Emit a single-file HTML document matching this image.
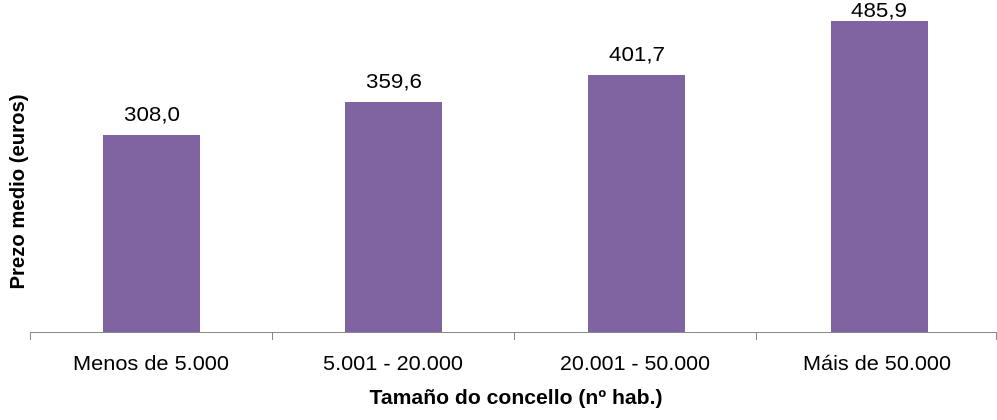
<!DOCTYPE html>
<html><head><meta charset="utf-8"><style>body{margin:0;background:#fff}</style></head><body>
<svg width="997" height="415" xmlns="http://www.w3.org/2000/svg" font-family="Liberation Sans, sans-serif">
<g fill="#8064A2">
<rect x="103" y="135" width="97" height="197"/>
<rect x="345" y="102" width="97" height="230"/>
<rect x="588" y="75" width="97" height="257"/>
<rect x="831" y="21" width="97" height="311"/>
</g>
<g stroke="#888" stroke-width="1" fill="none">
<path d="M30 332.5H997M30.5 332V340M272.5 332V340M514.5 332V340M756.5 332V340M996.5 332V340"/>
</g>
<g font-size="20" text-anchor="middle" fill="#000" lengthAdjust="spacingAndGlyphs">
<text x="152" y="121" textLength="56" lengthAdjust="spacingAndGlyphs">308,0</text>
<text x="394" y="88" textLength="56" lengthAdjust="spacingAndGlyphs">359,6</text>
<text x="637" y="61" textLength="56" lengthAdjust="spacingAndGlyphs">401,7</text>
<text x="879" y="17" textLength="56" lengthAdjust="spacingAndGlyphs">485,9</text>
<text x="151" y="370" textLength="156" lengthAdjust="spacingAndGlyphs">Menos de 5.000</text>
<text x="393" y="370" textLength="140" lengthAdjust="spacingAndGlyphs">5.001 - 20.000</text>
<text x="635" y="370" textLength="150" lengthAdjust="spacingAndGlyphs">20.001 - 50.000</text>
<text x="877" y="370" textLength="148" lengthAdjust="spacingAndGlyphs">Máis de 50.000</text>
<text x="516" y="404" font-weight="bold" textLength="293" lengthAdjust="spacingAndGlyphs">Tamaño do concello (nº hab.)</text>
<text transform="translate(24,192) rotate(-90)" font-weight="bold" textLength="195" lengthAdjust="spacingAndGlyphs">Prezo medio (euros)</text>
</g>
</svg>
</body></html>
